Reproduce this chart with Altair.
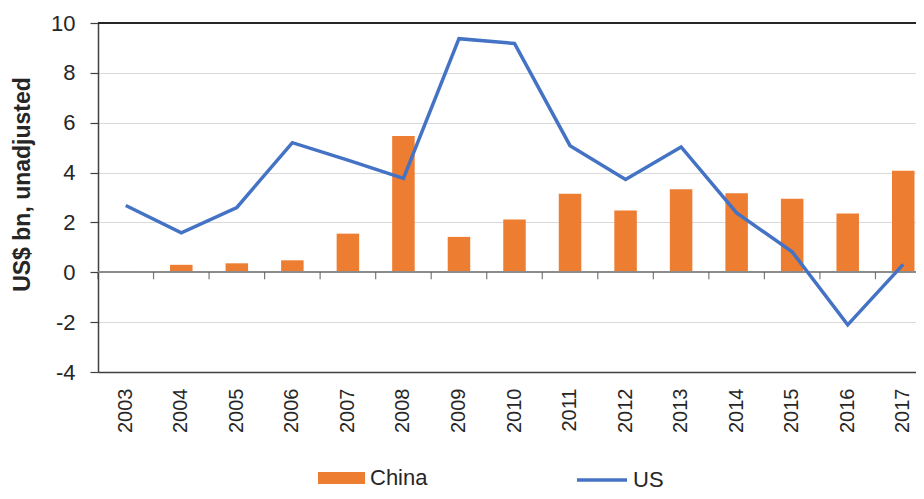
import altair as alt
import pandas as pd

years = [str(y) for y in range(2003, 2018)]
china = [0.05, 0.30, 0.36, 0.48, 1.55, 5.47, 1.42, 2.12, 3.15, 2.48, 3.33, 3.17, 2.95, 2.36, 4.07]
us = [2.68, 1.58, 2.60, 5.20, 4.50, 3.77, 9.37, 9.18, 5.08, 3.72, 5.03, 2.38, 0.82, -2.11, 0.32]
y_ticks = [-4, -2, 0, 2, 4, 6, 8, 10]

df = pd.DataFrame(
    {"year": years * 2, "series": ["China"] * len(years) + ["US"] * len(years), "value": china + us}
)

FONT = "Liberation Sans"
TXT = "#262626"

x_scale = alt.Scale(range=[0, 833], paddingInner=0, paddingOuter=0)

x_enc = alt.X(
    "year:O",
    scale=x_scale,
    axis=alt.Axis(
        title=None, labelAngle=-90, labelAlign="right", labelBaseline="middle",
        labelFontSize=20, labelFont=FONT, labelColor=TXT, labelPadding=16,
        ticks=False, domainColor="#404040", domainWidth=1.5, grid=False,
    ),
)

y_enc = alt.Y(
    "value:Q",
    scale=alt.Scale(domain=[-4, 10], nice=False, zero=False),
    axis=alt.Axis(
        values=y_ticks, title="US$ bn, unadjusted",
        labelExpr="'' + datum.value",
        titleFont=FONT, titleFontSize=23, titleFontWeight="bold", titleColor=TXT,
        titleX=-76, titleY=161, titleAlign="center", titleBaseline="middle", titleAngle=-90,
        labelFont=FONT, labelFontSize=22, labelColor=TXT, labelPadding=15,
        tickSize=8, tickColor="#404040", tickWidth=1.2, domainColor="#404040", domainWidth=1.5,
        gridColor="#d9d9d9", gridWidth=1.2,
    ),
)

base = alt.Chart(df)

bars = base.transform_filter("datum.series == 'China'").mark_bar(size=22.5).encode(
    x=x_enc,
    y=y_enc,
    fill=alt.Fill(
        "series:N",
        scale=alt.Scale(domain=["China"], range=["#ED7D31"]),
        legend=alt.Legend(
            title=None, orient="none", legendX=220, legendY=431.5, padding=0,
            symbolType="M-1,-0.26H1V0.26H-1Z", symbolSize=2209, symbolStrokeWidth=0,
            labelFont=FONT, labelFontSize=22, labelColor=TXT, labelOffset=5,
        ),
    ),
)

top_rule = base.mark_rule(color="#262626", strokeWidth=2).encode(y=alt.datum(10))
zero_rule = base.mark_rule(color="#8c8c8c", strokeWidth=1.5).encode(y=alt.datum(0))

zero_ticks = base.transform_filter("datum.series == 'China'").mark_tick(
    orient="vertical", size=7, thickness=1.2, color="#404040", yOffset=3.5
).encode(x=alt.X("year:O", bandPosition=0, scale=x_scale), y=alt.datum(0))

line = base.transform_filter("datum.series == 'US'").mark_line(strokeWidth=3.5).encode(
    x=x_enc,
    y=y_enc,
    stroke=alt.Stroke(
        "series:N",
        scale=alt.Scale(domain=["US"], range=["#4472C4"]),
        legend=alt.Legend(
            title=None, orient="none", legendX=477, legendY=430, padding=0,
            symbolType="stroke", symbolSize=2500, symbolStrokeWidth=3.5,
            labelFont=FONT, labelFontSize=22, labelColor=TXT, labelOffset=4,
        ),
    ),
)

chart = alt.layer(bars, top_rule, zero_rule, zero_ticks, line).resolve_scale(
    fill="independent", stroke="independent"
).properties(
    width=818, height=349,
    autosize=alt.AutoSizeParams(type="none"),
    padding={"left": 90, "top": 15, "right": 0, "bottom": 119},
).configure_view(strokeWidth=0).configure(background="white")

chart.save("out.html", embed_options={"renderer": "svg", "actions": False})
